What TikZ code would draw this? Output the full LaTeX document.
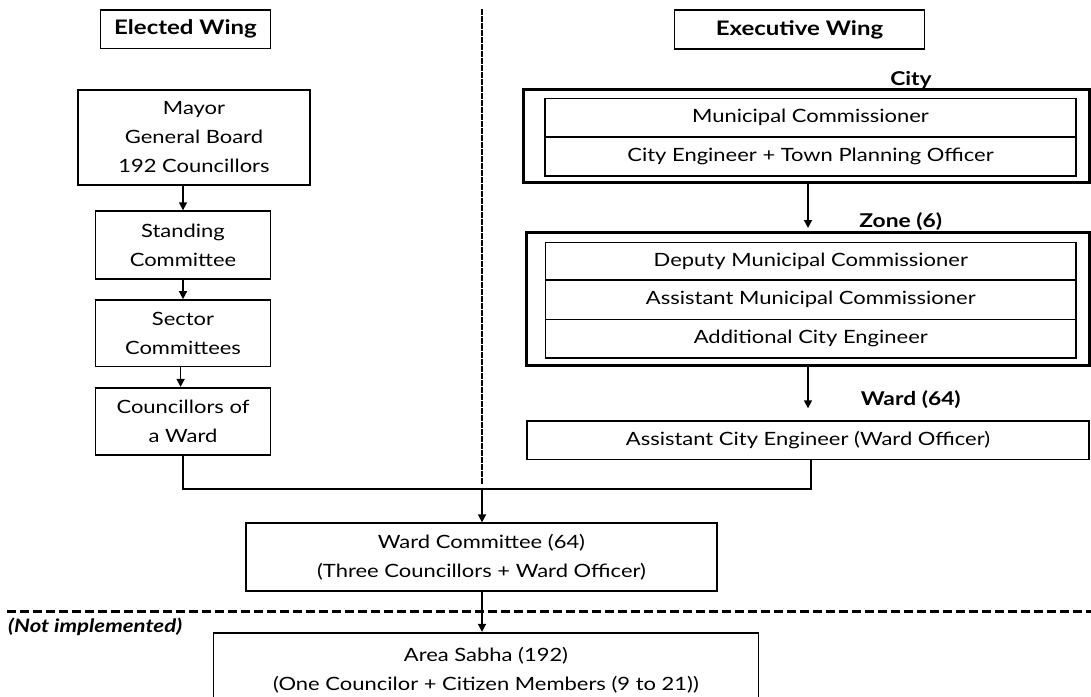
\documentclass[tikz,border=0pt]{standalone}
\usepackage{fontspec}
\setmainfont[FakeStretch=1.2]{Lato}
\usetikzlibrary{arrows.meta}
\begin{document}
\begin{tikzpicture}[x=1pt,y=-1pt,
  box/.style={draw, line width=1.6pt, rectangle, inner sep=0pt, align=center, font=\fontsize{18.3}{29}\selectfont},
  outer/.style={draw, line width=3pt, rectangle, inner sep=0pt},
  head/.style={font=\fontsize{19}{22}\selectfont\bfseries, inner sep=0pt},
  arr/.style={line width=1.5pt, -{Triangle[length=8pt,width=8pt]}},
  con/.style={line width=1.6pt}
]
\useasboundingbox (0,0) rectangle (1091,696);
\clip (0,0) rectangle (1091,696);
% headers
\node[box, minimum width=170pt, minimum height=38.6pt, font=\fontsize{20}{22}\selectfont\bfseries] (ew) at (185.5,29) {Elected Wing};
\node[box, minimum width=250pt, minimum height=38.6pt, font=\fontsize{20}{22}\selectfont\bfseries] (xw) at (799.5,29.5) {Executive Wing};
% divider
\coordinate (dtop) at (482,9);
\coordinate (dbot) at (482,484);
\draw[line width=1.3pt, dash pattern=on 6pt off 1pt] (dtop) -- (dbot);
% elected wing
\node[box, minimum width=232pt, minimum height=95pt] (mayor) at (194,137.5) {Mayor\\General Board\\192 Councillors};
\node[box, minimum width=175pt, minimum height=67.7pt] (stand) at (183,245) {Standing\\Committee};
\node[box, minimum width=175pt, minimum height=66.7pt] (sector) at (183,333.3) {Sector\\Committees};
\node[box, minimum width=175pt, minimum height=67pt] (coun) at (183,421.2) {Councillors of\\a Ward};
\draw[arr] (mayor.south -| stand.north) -- (stand.north);
\draw[arr] (stand.south) -- (sector.north);
\draw[arr] ([xshift=-2.4pt]sector.south) -- ([xshift=-2.4pt]coun.north);
% executive wing
\node[head] (city) at (911,80) {City};
\node[outer, minimum width=565.6pt, minimum height=93.4pt] (cityb) at (806.2,136) {};
\node[box, minimum width=531pt, minimum height=38.4pt] (mc) at (810.5,117.5) {Municipal Commissioner};
\node[box, minimum width=531pt, minimum height=39pt] (ce) at (810.5,156.2) {City Engineer + Town Planning Officer};
\node[head] (zone) at (900.7,221.7) {Zone (6)};
\node[outer, minimum width=562.6pt, minimum height=133.3pt] (zoneb) at (807.7,299.3) {};
\node[box, minimum width=530.4pt, minimum height=37.7pt] (dmc) at (810.8,261.2) {Deputy Municipal Commissioner};
\node[box, minimum width=530.4pt, minimum height=39.3pt] (amc) at (810.8,299.7) {Assistant Municipal Commissioner};
\node[box, minimum width=530.4pt, minimum height=38.4pt] (ace) at (810.8,338.5) {Additional City Engineer};
\coordinate (zarr) at (808,228);
\draw[arr] (cityb.south -| zarr) -- (zarr);
\node[head] (ward) at (910.8,400) {Ward (64)};
\node[box, minimum width=562pt, minimum height=38.6pt] (wo) at (808,440) {Assistant City Engineer (Ward Officer)};
\coordinate (warr) at (808,408.3);
\draw[arr] (zoneb.south -| warr) -- (warr);
% merge
\node[box, minimum width=470.5pt, minimum height=67.7pt] (wc) at (481.5,557) {Ward Committee (64)\\(Three Councillors + Ward Officer)};
\coordinate (jl) at (183,489);
\coordinate (jr) at (811,489);
\coordinate (jm) at (482,489);
\draw[con] (coun.south) -- (jl) -- (jr) -- (wo.south -| jr);
\draw[arr] (jm) -- (wc.north -| jm);
% not implemented
\coordinate (hl) at (7,611.7);
\coordinate (hr) at (1091,611.7);
\draw[line width=3pt, dash pattern=on 9pt off 4pt] (hl) -- (hr);
\node[anchor=west, inner sep=0pt, font=\fontsize{18.5}{22}\selectfont\bfseries\itshape] (ni) at (8,627) {(Not implemented)};
\node[box, minimum width=545pt, minimum height=75pt] (as) at (486,670.2) {Area Sabha (192)\\(One Councilor + Citizen Members (9 to 21))};
\draw[arr] (wc.south -| jm) -- (as.north -| jm);
\end{tikzpicture}
\end{document}
